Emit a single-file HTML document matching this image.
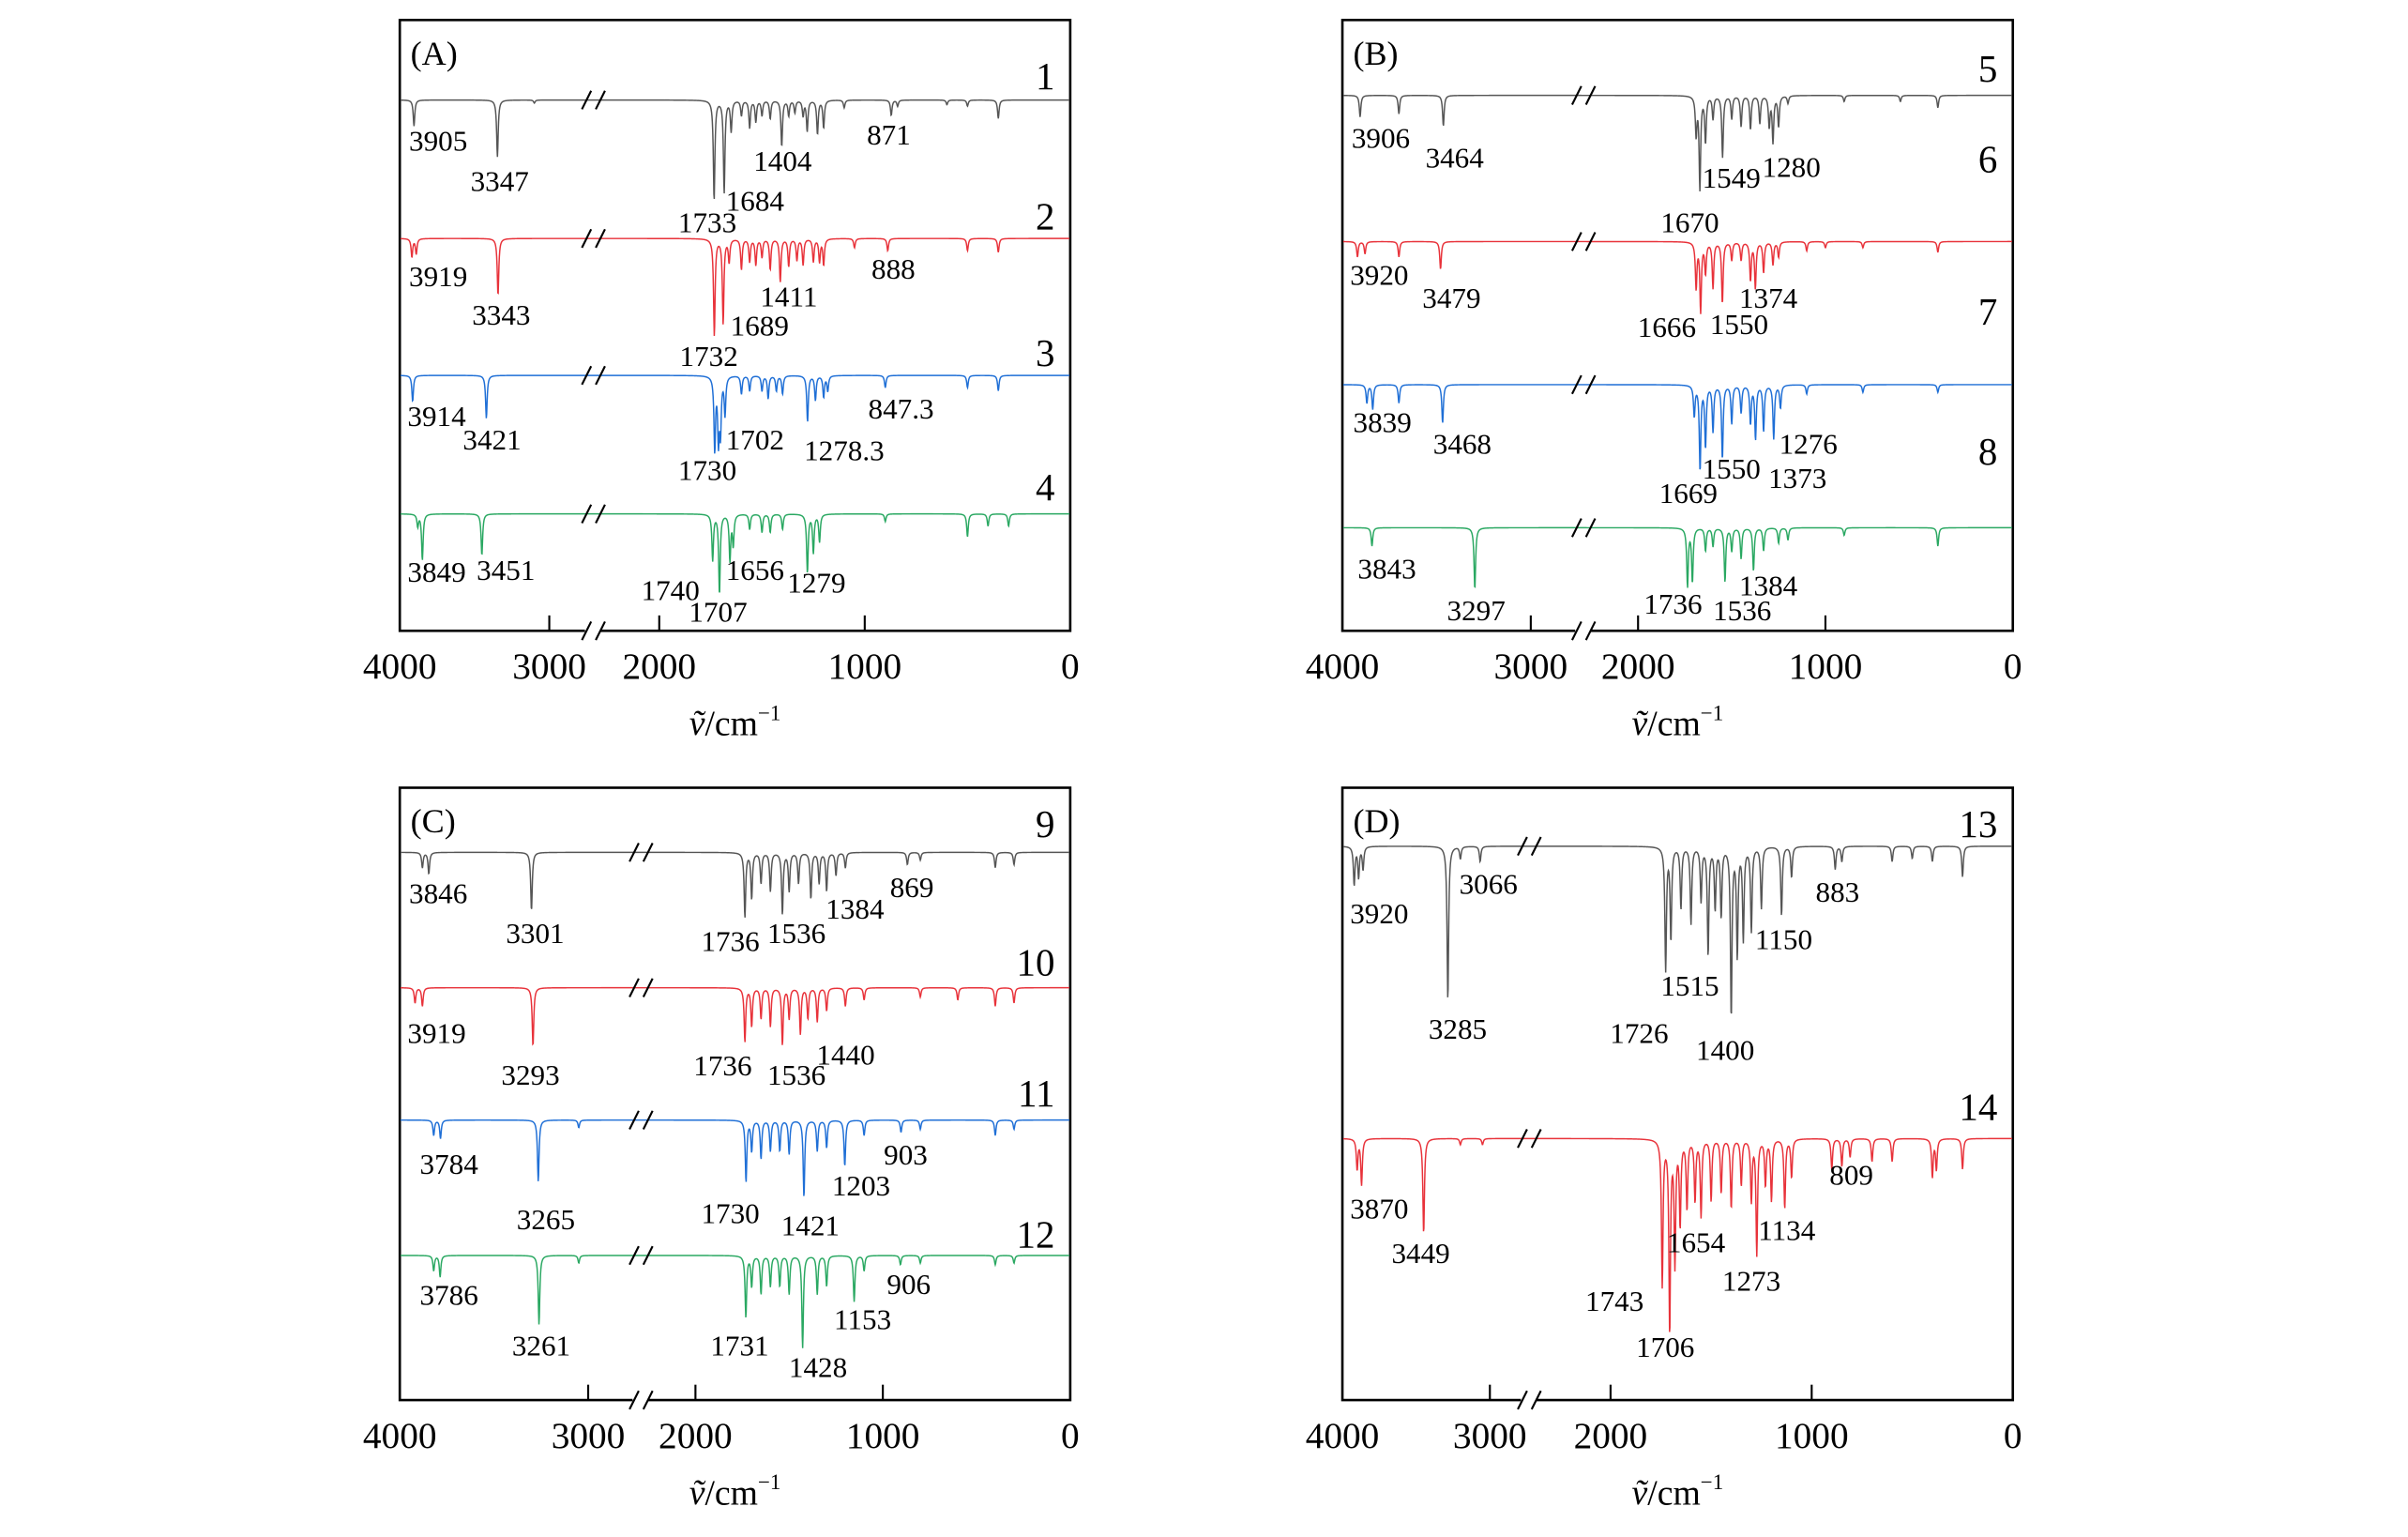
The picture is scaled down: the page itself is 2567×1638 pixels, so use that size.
<!DOCTYPE html>
<html><head><meta charset="utf-8"><style>
html,body{margin:0;padding:0;background:#fff}
svg{display:block}
text{font-family:"Liberation Serif",serif;fill:#000}
</style></head><body>
<svg id="chart" width="2567" height="1638" viewBox="0 0 1566 999" preserveAspectRatio="none" xmlns="http://www.w3.org/2000/svg"></svg>
<script>
// ---- panel data ----
const panelNames = ["A","B","C","D"];
const tickValues = [4000,3000,2000,1000,0];
const tickLabels = ["4000","3000","2000","1000","0"];
const specIds = ["1","2","3","4","5","6","7","8","9","10","11","12","13","14"];
const specPanel = [0,0,0,0,1,1,1,1,2,2,2,2,3,3];
const specColor = ["#555","#e8323a","#1f6fd6","#2aa862","#555","#e8323a","#1f6fd6","#2aa862","#555","#e8323a","#1f6fd6","#2aa862","#555","#e8323a"];
const specBase = [65,155,244,334,62,157,250,343,554,642,728,816,550,740];
const peaks1=[[3905,17],[3347,37],[3100,2],[1733,65],[1684,60],[1650,20],[1600,10],[1560,18],[1530,14],[1500,10],[1460,12],[1404,30],[1370,10],[1340,8],[1300,10],[1280,20],[1230,22],[1200,18],[1100,5],[871,10],[840,4],[600,3],[500,4],[350,12]];
const peaks2=[[3919,12],[3890,10],[3343,37],[1732,63],[1689,55],[1660,15],[1600,20],[1560,15],[1530,17],[1500,12],[1460,20],[1411,28],[1370,18],[1330,14],[1300,17],[1250,15],[1220,15],[1200,17],[1050,6],[888,8],[500,8],[350,9]];
const peaks3=[[3914,17],[3421,28],[1730,48],[1712,40],[1702,35],[1680,25],[1600,12],[1560,10],[1500,10],[1470,15],[1430,10],[1400,12],[1278.3,30],[1240,16],[1200,14],[1180,10],[900,8],[500,8],[350,10]];
const peaks4=[[3880,8],[3849,30],[3451,27],[1740,30],[1707,52],[1656,30],[1640,20],[1560,10],[1500,12],[1460,12],[1400,10],[1279,38],[1250,25],[1220,18],[900,5],[500,15],[400,8],[300,8]];
const peaks5=[[3906,14],[3700,12],[3464,20],[1690,25],[1670,60],[1640,30],[1600,15],[1549,40],[1500,15],[1450,20],[1400,22],[1350,18],[1300,20],[1280,30],[1250,20],[1200,5],[900,4],[600,4],[400,8]];
const peaks6=[[3920,10],[3880,8],[3700,10],[3479,18],[1690,30],[1666,45],[1640,20],[1600,30],[1550,40],[1500,12],[1450,12],[1400,25],[1374,30],[1330,20],[1280,15],[1250,10],[1100,6],[1000,4],[800,4],[400,7]];
const peaks7=[[3870,12],[3839,16],[3700,12],[3468,25],[1700,20],[1669,55],[1640,40],[1600,30],[1550,48],[1500,25],[1450,18],[1400,25],[1373,35],[1330,30],[1276,35],[1240,15],[1100,6],[800,5],[400,5]];
const peaks8=[[3843,12],[3297,40],[1736,38],[1710,35],[1640,15],[1600,12],[1536,35],[1500,15],[1450,20],[1384,28],[1330,15],[1250,10],[1200,8],[900,5],[400,12]];
const peaks9=[[3880,10],[3846,14],[3301,38],[1736,42],[1700,30],[1650,20],[1600,25],[1536,40],[1500,25],[1450,20],[1384,30],[1340,20],[1300,25],[1250,15],[1200,10],[869,8],[800,5],[400,10],[300,8]];
const peaks10=[[3919,10],[3880,12],[3293,38],[1736,35],[1700,25],[1650,20],[1600,25],[1536,37],[1500,20],[1440,30],[1400,20],[1350,22],[1300,15],[1200,12],[1100,8],[800,6],[600,8],[400,12],[300,10]];
const peaks11=[[3820,10],[3784,12],[3265,40],[3050,5],[1730,40],[1700,20],[1650,25],[1600,20],[1550,20],[1500,22],[1421,50],[1350,20],[1300,18],[1203,30],[1100,10],[903,8],[800,6],[400,10],[300,6]];
const peaks12=[[3820,10],[3786,14],[3261,45],[3050,5],[1731,40],[1700,20],[1650,25],[1600,20],[1550,20],[1500,25],[1428,60],[1350,25],[1300,20],[1153,30],[1100,10],[906,6],[800,5],[400,6],[300,5]];
const peaks13=[[3920,25],[3890,20],[3860,15],[3285,100],[3200,8],[3066,10],[1726,80],[1700,60],[1650,40],[1600,50],[1550,35],[1515,70],[1480,40],[1450,45],[1400,110],[1370,70],[1340,60],[1300,55],[1250,40],[1150,45],[1100,20],[883,15],[850,10],[600,10],[500,8],[400,10],[250,20]];
const peaks14=[[3900,20],[3870,30],[3449,62],[3200,4],[3050,4],[1743,95],[1706,125],[1680,80],[1654,55],[1620,45],[1580,40],[1550,50],[1500,40],[1450,35],[1400,45],[1350,30],[1300,40],[1273,75],[1230,30],[1200,40],[1134,45],[1100,25],[900,20],[850,18],[809,12],[700,15],[600,15],[400,25],[380,20],[250,20]];
const allPeaks=[peaks1,peaks2,peaks3,peaks4,peaks5,peaks6,peaks7,peaks8,peaks9,peaks10,peaks11,peaks12,peaks13,peaks14];
const annot=[
[0,"3905",285,92],[0,"3347",325,118],[0,"1404",509,105],[0,"871",578,88],[0,"1684",491,131],[0,"1733",460,145],
[1,"3919",285,180],[1,"3343",326,205],[1,"1411",513,193],[1,"888",581,175],[1,"1689",494,212],[1,"1732",461,232],
[2,"3914",284,271],[2,"3421",320,286],[2,"847.3",586,266],[2,"1702",491,286],[2,"1278.3",549,293],[2,"1730",460,306],
[3,"3849",284,372],[3,"3451",329,371],[3,"1656",491,371],[3,"1279",531,379],[3,"1740",436,384],[3,"1707",467,398],
[4,"3906",898,90],[4,"3464",946,103],[4,"1549",1126,116],[4,"1280",1165,109],[4,"1670",1099,145],
[5,"3920",897,179],[5,"3479",944,194],[5,"1374",1150,194],[5,"1666",1084,213],[5,"1550",1131,211],
[6,"3839",899,275],[6,"3468",951,289],[6,"1276",1176,289],[6,"1550",1126,305],[6,"1373",1169,311],[6,"1669",1098,321],
[7,"3843",902,370],[7,"3297",960,397],[7,"1384",1150,381],[7,"1736",1088,393],[7,"1536",1133,397],
[8,"3846",285,581],[8,"3301",348,607],[8,"1736",475,612],[8,"1536",518,607],[8,"1384",556,591],[8,"869",593,577],
[9,"3919",284,672],[9,"3293",345,699],[9,"1736",470,693],[9,"1536",518,699],[9,"1440",550,686],
[10,"3784",292,757],[10,"3265",355,793],[10,"1730",475,789],[10,"1421",527,797],[10,"1203",560,771],[10,"903",589,751],
[11,"3786",292,842],[11,"3261",352,875],[11,"1731",481,875],[11,"1428",532,889],[11,"1153",561,858],[11,"906",591,835],
[12,"3920",897,594],[12,"3285",948,669],[12,"3066",968,575],[12,"1726",1066,672],[12,"1515",1099,641],[12,"1400",1122,683],[12,"1150",1160,611],[12,"883",1195,580],
[13,"3870",897,786],[13,"3449",924,815],[13,"1654",1103,808],[13,"1134",1162,800],[13,"1273",1139,833],[13,"1743",1050,846],[13,"1706",1083,876],[13,"809",1204,764]
];
const idLabelY=[48,139,228,315,43,102,201,292,534,624,709,801,534,718];

// ---- layout ----
const P=[{x:260,y:13,w:436,h:397,f3:.223,f2:.387,fb:.29},
         {x:873,y:13,w:436,h:397,f3:.281,f2:.441,fb:.361},
         {x:260,y:512,w:436,h:398,f3:.281,f2:.441,fb:.361},
         {x:873,y:512,w:436,h:398,f3:.22,f2:.40,fb:.28}];
const NS="http://www.w3.org/2000/svg";
const svg=document.getElementById('chart');
function mk(tag,attrs,parent){const e=document.createElementNS(NS,tag);for(const k in attrs)e.setAttribute(k,attrs[k]);(parent||svg).appendChild(e);return e;}
function xScale(p,w){let f; if(w>=2500) f=(4000-w)/1000*p.f3; else f=p.f2+(2000-w)/2000*(1-p.f2); return p.x+f*p.w;}
function breakMark(g,x,y){mk('path',{d:`M${x-8},${y+6} L${x-2},${y-6} M${x+1},${y+6} L${x+7},${y-6}`,stroke:'#000','stroke-width':1.3,fill:'none'},g);}
P.forEach((p,i)=>{
  const g=mk('g',{});
  
  
  const fr=mk('rect',{x:p.x,y:p.y,width:p.w,height:p.h,fill:'none',stroke:'#000','stroke-width':1.6},g);
  
  
  const lbl=mk('text',{x:p.x+7,y:p.y+29,'font-size':22},g); lbl.textContent='('+panelNames[i]+')';
  
  
  tickValues.forEach((v,k)=>{
    const tx=xScale(p,v);
    if(v!==4000&&v!==0){const t=mk('line',{x1:tx,x2:tx,y1:p.y+p.h,y2:p.y+p.h-10,stroke:'#000','stroke-width':1.3},g);
      
      }
    const tl=mk('text',{x:tx,y:p.y+p.h+31,'font-size':24,'text-anchor':'middle'},g); tl.textContent=tickLabels[k];
    
    
  });
  const bx=p.x+p.fb*p.w;
  mk('rect',{x:bx-6,y:p.y+p.h-2,width:10,height:4,fill:'#fff'},g);
  breakMark(g,bx,p.y+p.h);
  const at=mk('text',{x:p.x+p.w/2,y:p.y+p.h+68,'font-size':23,'text-anchor':'middle'},g);
  at.innerHTML='<tspan font-style="italic">ṽ</tspan>/cm<tspan font-size="14" dy="-10">−1</tspan>';
  
  
});
specIds.forEach((id,s)=>{
  const p=P[specPanel[s]], base=specBase[s], pk=allPeaks[s];
  const px=pk.map(q=>[xScale(p,q[0]),q[1]]);
  let d='';
  for(let X=p.x+0.5;X<=p.x+p.w-0.5;X+=0.25){
    let y=base;
    px.forEach(q=>{const dx=(X-q[0])/0.6; y+=q[1]/(1+dx*dx);});
    d+=(d?'L':'M')+X.toFixed(2)+','+y.toFixed(2);
  }
  const path=mk('path',{d:d,fill:'none',stroke:specColor[s],'stroke-width':0.9});
  
  
  const bx=p.x+p.fb*p.w;
  const g=mk('g',{});
  
  
  breakMark(g,bx,base);
  const t=mk('text',{x:p.x+p.w-10,y:idLabelY[s]+10,'font-size':25,'text-anchor':'end'});
  t.textContent=id;
  
  
});
annot.forEach(a=>{
  const t=mk('text',{x:a[2],y:a[3]+6,'font-size':19,'text-anchor':'middle'});
  t.textContent=a[1];
  
  
});
</script>
</body></html>
